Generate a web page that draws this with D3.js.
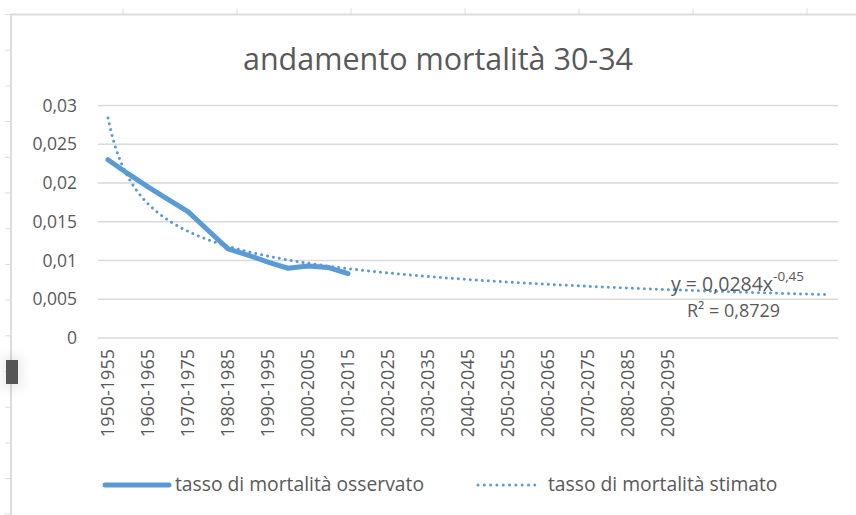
<!DOCTYPE html>
<html>
<head>
<meta charset="utf-8">
<script src="https://cdn.jsdelivr.net/npm/d3@7"></script>
<style>
  html, body { margin: 0; padding: 0; background: #fff; }
  svg { display: block; }
  text { font-family: "Open Sans", "Noto Sans", sans-serif; fill: #595959; }
</style>
</head>
<body>
<svg id="chart" width="856" height="515"></svg>
<script>
// ---- data ----
const title = "andamento mortalità 30-34";
const categories = [
  "1950-1955","1955-1960","1960-1965","1965-1970","1970-1975","1975-1980",
  "1980-1985","1985-1990","1990-1995","1995-2000","2000-2005","2005-2010",
  "2010-2015","2015-2020","2020-2025","2025-2030","2030-2035","2035-2040",
  "2040-2045","2045-2050","2050-2055","2055-2060","2060-2065","2065-2070",
  "2070-2075","2075-2080","2080-2085","2085-2090","2090-2095","2095-2100"
];
const forecastPeriods = 7; // trendline forward forecast (unlabelled periods)
const observed = [0.0230, 0.0212, 0.0195, 0.0179, 0.0163, 0.0139, 0.0115,
                  0.0107, 0.0098, 0.0090, 0.0093, 0.0091, 0.0083];
const trendCoef = 0.0284;   // from "y = 0,0284x^-0,45"
const trendExp = -0.45;
const rSquared = "0,8729";
const yTicks = [0, 0.005, 0.01, 0.015, 0.02, 0.025, 0.03];
const seriesNames = ["tasso di mortalità osservato", "tasso di mortalità stimato"];

// ---- layout ----
const svg = d3.select("#chart");
const color = "#5b9bd5";
const gridColor = "#d9d9d9";
const plot = { left: 98, right: 838, top: 105.5, bottom: 338 };

// spreadsheet background lines
const sheet = svg.append("g");
sheet.append("line").attr("x1", 11).attr("x2", 856).attr("y1", 14.5).attr("y2", 14.5)
  .attr("stroke", "#dcdcdc").attr("stroke-width", 2);
sheet.append("line").attr("x1", 11).attr("x2", 11).attr("y1", 14).attr("y2", 515)
  .attr("stroke", "#dcdcdc").attr("stroke-width", 2);
d3.range(123, 856, 114).forEach(xx => {
  sheet.append("line").attr("x1", xx).attr("x2", xx).attr("y1", 8).attr("y2", 14)
    .attr("stroke", "#dcdcdc").attr("stroke-width", 1);
});
d3.range(14.5, 515, 35.7).forEach(yy => {
  sheet.append("line").attr("x1", 5).attr("x2", 11).attr("y1", yy).attr("y2", yy)
    .attr("stroke", "#dcdcdc").attr("stroke-width", 1);
});
const defs = svg.append("defs");
const flt = defs.append("filter").attr("id", "sh").attr("x", "-200%").attr("y", "-200%")
  .attr("width", "500%").attr("height", "500%");
flt.append("feGaussianBlur").attr("stdDeviation", 6);
sheet.append("rect").attr("x", 2).attr("y", 356).attr("width", 20).attr("height", 33)
  .attr("fill", "#000").attr("opacity", 0.08).attr("filter", "url(#sh)");
sheet.append("rect").attr("x", 6).attr("y", 360).attr("width", 12).attr("height", 24)
  .attr("fill", "#555");

// scales
const allCats = categories.concat(d3.range(forecastPeriods).map(i => "f" + i));
const x = d3.scalePoint().domain(allCats.map((d, i) => i))
  .range([plot.left, plot.right]).padding(0.5);
const y = d3.scaleLinear().domain([0, 0.03]).range([plot.bottom, plot.top]);
const loc = d3.formatLocale({ decimal: ",", thousands: ".", grouping: [3], currency: ["€", ""] });
const fmt = loc.format("~g");

// gridlines
svg.append("g").selectAll("line").data(yTicks).join("line")
  .attr("x1", plot.left).attr("x2", plot.right)
  .attr("y1", d => y(d)).attr("y2", d => y(d))
  .attr("stroke", gridColor).attr("stroke-width", 1.3);

// y axis labels
const yAxis = d3.axisLeft(y).tickValues(yTicks).tickFormat(fmt).tickSize(0).tickPadding(0);
const yg = svg.append("g").attr("transform", "translate(77,0)").call(yAxis);
yg.select(".domain").remove();
yg.selectAll("text").style("font-size", "17.5px").attr("fill", "#595959")
  .style("font-family", '"Open Sans", sans-serif');

// x axis labels (every other category)
const xg = svg.append("g");
categories.forEach((c, i) => {
  if (i % 2 !== 0) return;
  xg.append("text")
    .attr("transform", `translate(${x(i)},349) rotate(-90)`)
    .attr("text-anchor", "end").attr("dy", "0.36em")
    .style("font-size", "18px").text(c);
});

// title
svg.append("text").attr("x", 438).attr("y", 70).attr("text-anchor", "middle")
  .style("font-size", "30.5px").text(title);

// trendline (power fit, as displayed)
const nTotal = allCats.length;
const trendPts = d3.range(1, nTotal + 0.001, 0.05).map(t => [t, trendCoef * Math.pow(t, trendExp)]);
const xc = d3.scaleLinear().domain([1, nTotal]).range([x(0), x(nTotal - 1)]);
svg.append("path").datum(trendPts)
  .attr("d", d3.line().x(d => xc(d[0])).y(d => y(d[1])))
  .attr("fill", "none").attr("stroke", color).attr("stroke-width", 3)
  .attr("stroke-linecap", "round").attr("stroke-dasharray", "0.01 6");

// observed line
svg.append("path").datum(observed)
  .attr("d", d3.line().x((d, i) => x(i)).y(d => y(d)))
  .attr("fill", "none").attr("stroke", color).attr("stroke-width", 5)
  .attr("stroke-linecap", "round").attr("stroke-linejoin", "round");

// equation
const eq = svg.append("text").attr("x", 671).attr("y", 291).style("font-size", "19.5px");
eq.append("tspan").text("y = " + String(trendCoef).replace(".", ",") + "x");
eq.append("tspan").attr("dy", -10).style("font-size", "13.5px").text(String(trendExp).replace(".", ","));
svg.append("text").attr("x", 687).attr("y", 317).style("font-size", "18px")
  .text("R² = " + rSquared);

// legend
const lg = svg.append("g");
lg.append("line").attr("x1", 105).attr("x2", 169).attr("y1", 485).attr("y2", 485)
  .attr("stroke", color).attr("stroke-width", 5).attr("stroke-linecap", "round");
lg.append("text").attr("x", 175).attr("y", 491).style("font-size", "19.3px").text(seriesNames[0]);
lg.append("line").attr("x1", 478).attr("x2", 541).attr("y1", 485).attr("y2", 485)
  .attr("stroke", color).attr("stroke-width", 3).attr("stroke-linecap", "round")
  .attr("stroke-dasharray", "0.01 6.3");
lg.append("text").attr("x", 548).attr("y", 491).style("font-size", "19.3px").text(seriesNames[1]);
</script>
</body>
</html>
